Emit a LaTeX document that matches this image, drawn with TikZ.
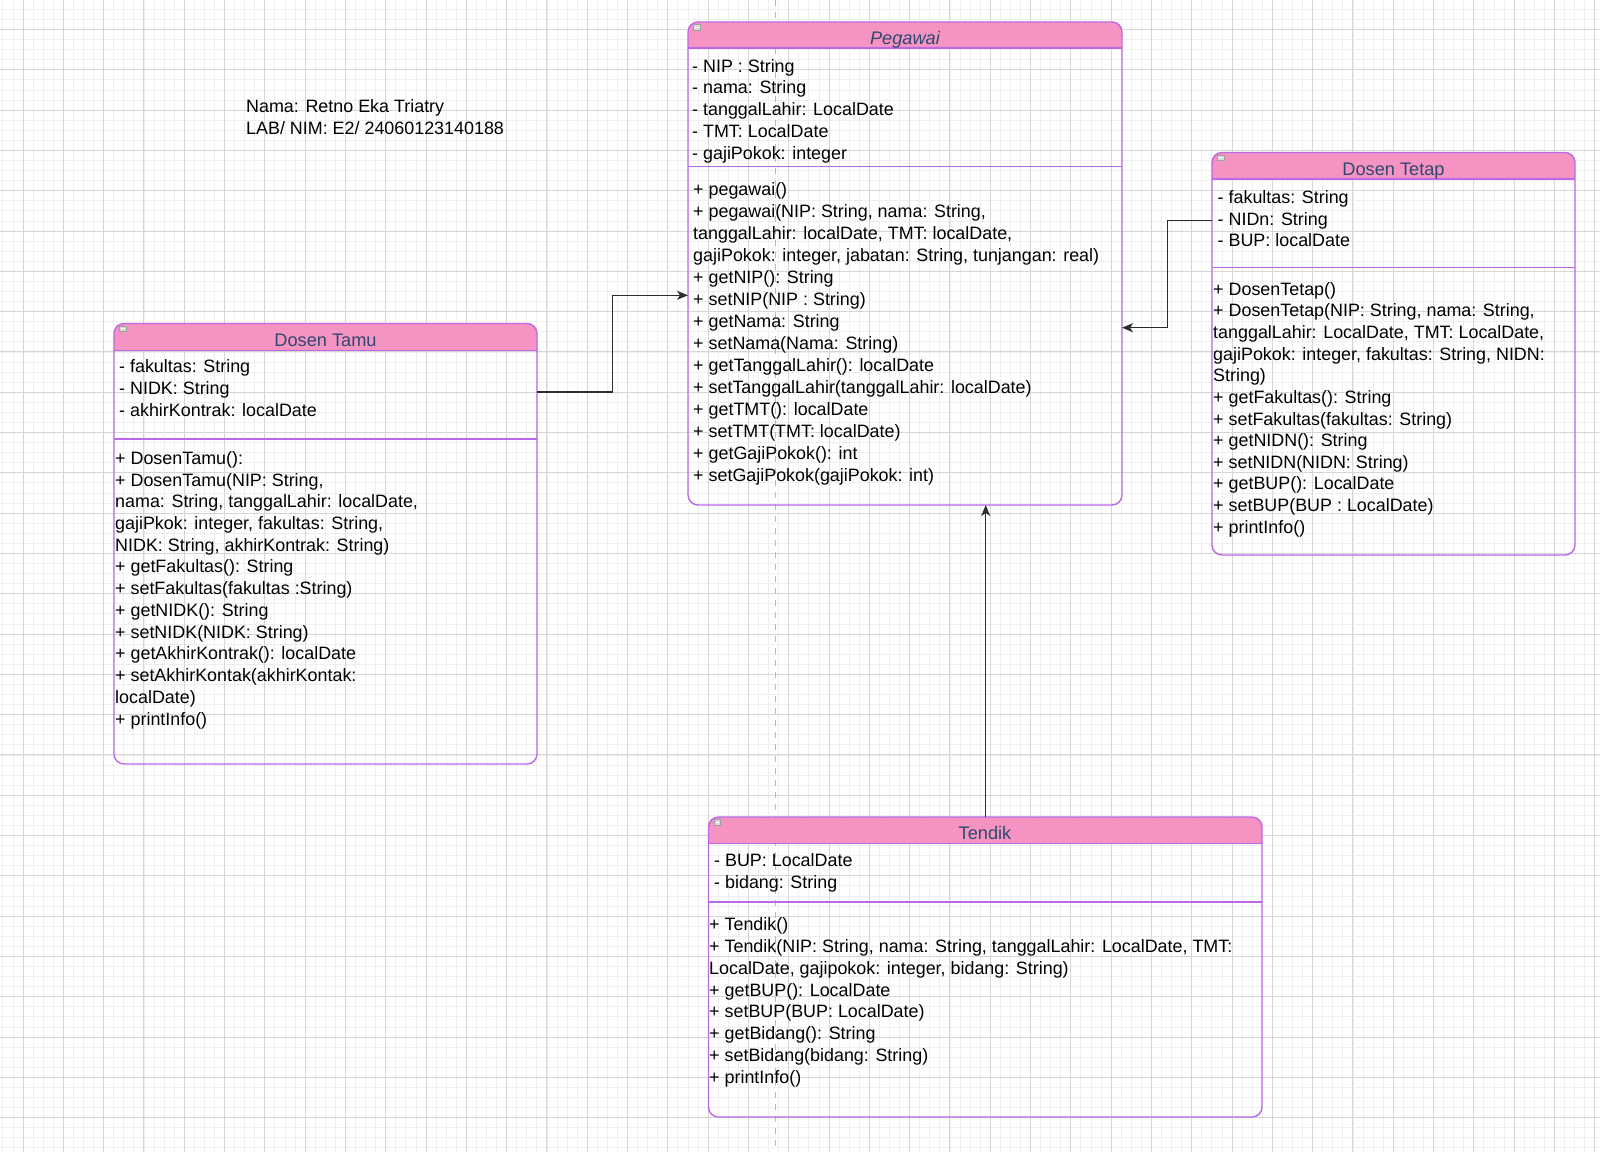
\documentclass[tikz,border=0pt]{standalone}
\usepackage{fontspec}
\setmainfont{Liberation Sans}
\usetikzlibrary{arrows.meta}

\definecolor{hdrpink}{RGB}{245,148,194}
\definecolor{umlline}{RGB}{186,104,232}
\definecolor{titleblue}{RGB}{46,72,112}
\definecolor{gridminor}{RGB}{239,239,239}
\definecolor{gridmajor}{RGB}{214,214,214}
\definecolor{connector}{RGB}{45,45,45}

% multi-line text nodes are placed by the baseline of their last line
\tikzset{
  classbox/.style={draw=umlline, line width=1.4pt, rounded corners=10pt,
    inner sep=0pt, outer sep=0pt, anchor=north west},
  divider/.style={draw=umlline, line width=1.4pt},
  classtitle/.style={anchor=base, inner sep=0pt, text=titleblue,
    font=\fontsize{18.2}{21}\selectfont},
  body/.style={anchor=base west, inner sep=0pt, align=left,
    font=\fontsize{17.9}{21.8}\selectfont},
  conn/.style={draw=connector, line width=1.2pt,
    -{Stealth[length=11pt,width=9pt,inset=3pt]}},
  minbtn/.style={draw=gray!75, fill=gray!30, line width=0.6pt}
}
% collapse button in a class header, lower-left corner given
\newcommand{\collapsebtn}[2]{%
  \draw[minbtn] (#1,#2) rectangle ++(6.5,5.5);
  \draw[white, line width=0.8pt] ({#1+1.5},{#2+2.75}) -- ++(3.5,0);
}

\begin{document}
\begin{tikzpicture}[x=1pt,y=-1pt]
\useasboundingbox (0,0) rectangle (1600,1152);
\fill[white] (0,0) rectangle (1600,1152);

% background grid
\foreach \i in {-3,...,158}
  \draw[gridminor, line width=0.8pt] ({23+\i*10.075},0) -- ({23+\i*10.075},1152);
\foreach \i in {-3,...,112}
  \draw[gridminor, line width=0.8pt] (0,{29.5+\i*10.075}) -- (1600,{29.5+\i*10.075});
\foreach \i in {0,...,39}
  \draw[gridmajor, line width=0.9pt] ({23+\i*40.3},0) -- ({23+\i*40.3},1152);
\foreach \i in {0,...,28}
  \draw[gridmajor, line width=0.9pt] (0,{29.5+\i*40.3}) -- (1600,{29.5+\i*40.3});

% page break guide
\draw[gray!55, line width=0.8pt, dash pattern=on 6pt off 6pt] (775.5,0) -- (775.5,1152);

% author note
\node[body] (author) at (246,134.5) {Nama: Retno Eka Triatry\\LAB/ NIM: E2/ 24060123140188};

% ---------- Pegawai ----------
\begin{scope}
  \clip (688,22) rectangle (1122,48);
  \fill[hdrpink, rounded corners=10pt] (688,22) rectangle (1122,505);
\end{scope}
\node[classbox, minimum width=434pt, minimum height=483pt] (pegawai) at (688,22) {};
\draw[divider] (pegawai.west |- 0,48) -- (pegawai.east |- 0,48);
\draw[divider] (pegawai.west |- 0,166.5) -- (pegawai.east |- 0,166.5);
\collapsebtn{693.5}{24.5}
\node[classtitle] (pegawaiTitle) at (905,44) {\itshape Pegawai};
\node[body] (pegawaiAttr) at (692,159.3) {- NIP : String\\- nama: String\\- tanggalLahir: LocalDate\\- TMT: LocalDate\\- gajiPokok: integer};
\node[body, font=\fontsize{17.9}{22.05}\selectfont] (pegawaiOps) at (693,481.7) {+ pegawai()\\+ pegawai(NIP: String, nama: String,\\tanggalLahir: localDate, TMT: localDate,\\gajiPokok: integer, jabatan: String, tunjangan: real)\\+ getNIP(): String\\+ setNIP(NIP : String)\\+ getNama: String\\+ setNama(Nama: String)\\+ getTanggalLahir(): localDate\\+ setTanggalLahir(tanggalLahir: localDate)\\+ getTMT(): localDate\\+ setTMT(TMT: localDate)\\+ getGajiPokok(): int\\+ setGajiPokok(gajiPokok: int)};

% ---------- Dosen Tetap ----------
\begin{scope}
  \clip (1212,152.5) rectangle (1575,179);
  \fill[hdrpink, rounded corners=10pt] (1212,152.5) rectangle (1575,555);
\end{scope}
\node[classbox, minimum width=363pt, minimum height=402.5pt] (tetap) at (1212,152.5) {};
\draw[divider] (tetap.west |- 0,179) -- (tetap.east |- 0,179);
\draw[divider] (tetap.west |- 0,267.3) -- (tetap.east |- 0,267.3);
\collapsebtn{1217.5}{155}
\node[classtitle] (tetapTitle) at (1393.5,175) {Dosen Tetap};
\node[body] (tetapAttr) at (1217.5,246.8) {- fakultas: String\\- NIDn: String\\- BUP: localDate};
\node[body, font=\fontsize{17.9}{21.66}\selectfont] (tetapOps) at (1213,533.3) {+ DosenTetap()\\+ DosenTetap(NIP: String, nama: String,\\tanggalLahir: LocalDate, TMT: LocalDate,\\gajiPokok: integer, fakultas: String, NIDN:\\String)\\+ getFakultas(): String\\+ setFakultas(fakultas: String)\\+ getNIDN(): String\\+ setNIDN(NIDN: String)\\+ getBUP(): LocalDate\\+ setBUP(BUP : LocalDate)\\+ printInfo()};

% ---------- Dosen Tamu ----------
\begin{scope}
  \clip (114,323.5) rectangle (537,350.7);
  \fill[hdrpink, rounded corners=10pt] (114,323.5) rectangle (537,764);
\end{scope}
\node[classbox, minimum width=423pt, minimum height=440.5pt] (tamu) at (114,323.5) {};
\draw[divider] (tamu.west |- 0,350.7) -- (tamu.east |- 0,350.7);
\draw[divider] (tamu.west |- 0,438.8) -- (tamu.east |- 0,438.8);
\collapsebtn{119.5}{326}
\node[classtitle] (tamuTitle) at (325.5,346.5) {Dosen Tamu};
\node[body] (tamuAttr) at (119,416.5) {- fakultas: String\\- NIDK: String\\- akhirKontrak: localDate};
\node[body, font=\fontsize{17.9}{21.72}\selectfont] (tamuOps) at (115,725) {+ DosenTamu():\\+ DosenTamu(NIP: String,\\nama: String, tanggalLahir: localDate,\\gajiPkok: integer, fakultas: String,\\NIDK: String, akhirKontrak: String)\\+ getFakultas(): String\\+ setFakultas(fakultas :String)\\+ getNIDK(): String\\+ setNIDK(NIDK: String)\\+ getAkhirKontrak(): localDate\\+ setAkhirKontak(akhirKontak:\\localDate)\\+ printInfo()};

% ---------- Tendik ----------
\begin{scope}
  \clip (708.5,817) rectangle (1262,843.5);
  \fill[hdrpink, rounded corners=10pt] (708.5,817) rectangle (1262,1117);
\end{scope}
\node[classbox, minimum width=553.5pt, minimum height=300pt] (tendik) at (708.5,817) {};
\draw[divider] (tendik.west |- 0,843.5) -- (tendik.east |- 0,843.5);
\draw[divider] (tendik.west |- 0,902) -- (tendik.east |- 0,902);
\collapsebtn{714}{819.5}
\node[classtitle] (tendikTitle) at (985,839.5) {Tendik};
\node[body] (tendikAttr) at (714,888.3) {- BUP: LocalDate\\- bidang: String};
\node[body] (tendikOps) at (709,1083.3) {+ Tendik()\\+ Tendik(NIP: String, nama: String, tanggalLahir: LocalDate, TMT:\\LocalDate, gajipokok: integer, bidang: String)\\+ getBUP(): LocalDate\\+ setBUP(BUP: LocalDate)\\+ getBidang(): String\\+ setBidang(bidang: String)\\+ printInfo()};

% ---------- generalisation connectors ----------
\draw[conn] (tamu.east |- 0,392) -- (612.7,392) |- (pegawai.west |- 0,295.3);
\draw[conn] (tetap.west |- 0,220.7) -- (1167.3,220.7) |- (pegawai.east |- 0,327.7);
\draw[conn] (tendik.north -| 985.7,0) -- (pegawai.south -| 985.7,0);

\end{tikzpicture}
\end{document}
